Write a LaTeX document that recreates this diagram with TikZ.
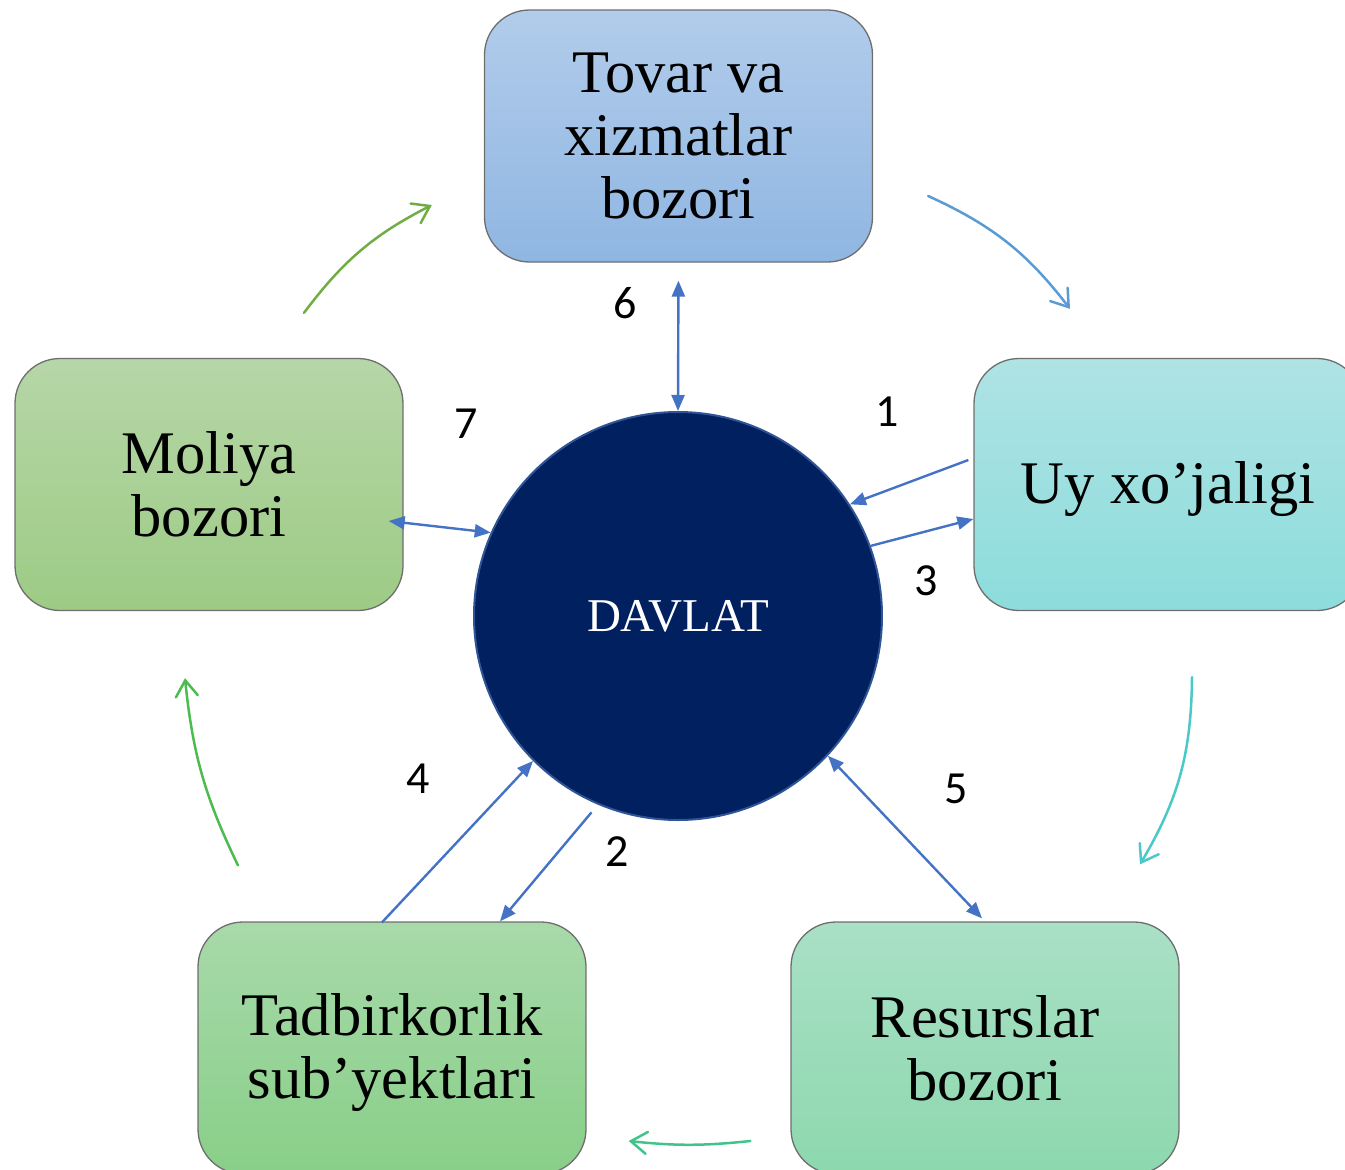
\documentclass[tikz,border=0pt]{standalone}
\usepackage{fontspec}
\setmainfont{Liberation Serif}
\newfontfamily\numfont{Carlito}
\usetikzlibrary{arrows.meta,calc}
\definecolor{navy}{HTML}{002060}
\definecolor{navyedge}{HTML}{2F5597}
\definecolor{linkblue}{HTML}{4472C4}
\definecolor{boxedge}{HTML}{6E6E6E}
\newcommand{\lowstrut}{\rule{0pt}{51pt}}
\tikzset{
  box/.style={draw=boxedge, line width=1.3pt, rounded corners=45pt,
    minimum width=388pt, minimum height=252pt, align=center, inner sep=0pt,
    font=\fontsize{60.5}{63}\selectfont},
  link/.style={draw=linkblue, line width=2.4pt, -{Triangle[length=16pt,width=13pt]}},
  dlink/.style={draw=linkblue, line width=2.4pt, {Triangle[length=16pt,width=13pt]}-{Triangle[length=16pt,width=13pt]}},
  flow/.style={line width=2.5pt, line cap=round, -{Straight Barb[length=16pt,width=22pt,line cap=round]}},
  num/.style={font=\numfont\fontsize{46}{46}\selectfont, inner sep=0pt}
}
\begin{document}
\begin{tikzpicture}[x=1pt,y=-1pt]
\useasboundingbox (0,0) rectangle (1345,1170);
\begin{scope}
\clip (0,0) rectangle (1345,1170);
\node[box, top color={rgb,255:red,178;green,204;blue,235}, bottom color={rgb,255:red,143;green,182;blue,226}] (tovar) at (678.5,136) {Tovar va\\xizmatlar\\bozori};
\node[box, top color={rgb,255:red,182;green,214;blue,167}, bottom color={rgb,255:red,157;green,203;blue,133}] (moliya) at (209,484.5) {Moliya\\bozori};
\node[box, top color={rgb,255:red,175;green,227;blue,228}, bottom color={rgb,255:red,141;green,220;blue,220}] (uy) at (1168,484.5) {\lowstrut Uy xo’jaligi};
\node[box, top color={rgb,255:red,168;green,217;blue,170}, bottom color={rgb,255:red,136;green,207;blue,136}] (tadb) at (392,1048) {\lowstrut Tadbirkorlik\\sub’yektlari};
\node[box, top color={rgb,255:red,169;green,224;blue,198}, bottom color={rgb,255:red,141;green,216;blue,174}] (res) at (985,1048) {Resurslar\\bozori};
\end{scope}
\node[circle, fill=navy, draw=navyedge, line width=2pt, minimum size=408pt, inner sep=0pt,
  text=white, font=\fontsize{47}{47}\selectfont] (davlat) at (678,616) {DAVLAT};

% numbers
\node[num] (n6) at (625,303) {6};
\node[num] (n7) at (466,424) {7};
\node[num] (n1) at (887,412) {1};
\node[num] (n3) at (926,581) {3};
\node[num] (n4) at (418,779) {4};
\node[num] (n2) at (617,852) {2};
\node[num] (n5) at (956,789) {5};

% straight connectors
\draw[dlink, shorten <=18pt] (tovar.south) -- (davlat.north);
\draw[link] ($(uy.west)+(-5,-24.5)$) -- (davlat.33);
\draw[link] (davlat.20) -- ($(uy.west)+(0,34.5)$);
\draw[dlink] ($(moliya.east)+(-15,36.5)$) -- (davlat.156);
\draw[link] ($(tadb.north)+(-10,1)$) -- (davlat.225);
\draw[link, shorten <=10pt] (davlat.247) -- ($(tadb.north)+(108,0)$);
\draw[dlink] (davlat.-43.5) -- ($(res.north)+(-3,-3)$);

% cycle arrows
\draw[flow, draw={rgb,255:red,91;green,155;blue,213}] ($(tovar.east)+(55,60)$) to[bend left=14] ($(uy.north)+(-98,-49)$);
\draw[flow, draw={rgb,255:red,75;green,200;blue,200}] ($(uy.south)+(24,66)$) to[bend left=15] ($(res.north)+(155,-57)$);
\draw[flow, draw={rgb,255:red,64;green,196;blue,138}] ($(res.west)+(-40,93)$) to[bend left=6] ($(tadb.east)+(42,93)$);
\draw[flow, draw={rgb,255:red,76;green,187;blue,80}] ($(tadb.north)+(-154,-56)$) to[bend left=10] ($(moliya.south)+(-24,67)$);
\draw[flow, draw={rgb,255:red,112;green,173;blue,71}] ($(moliya.north)+(95,-45)$) to[bend left=13] ($(tovar.west)+(-52,69)$);
\end{tikzpicture}
\end{document}
